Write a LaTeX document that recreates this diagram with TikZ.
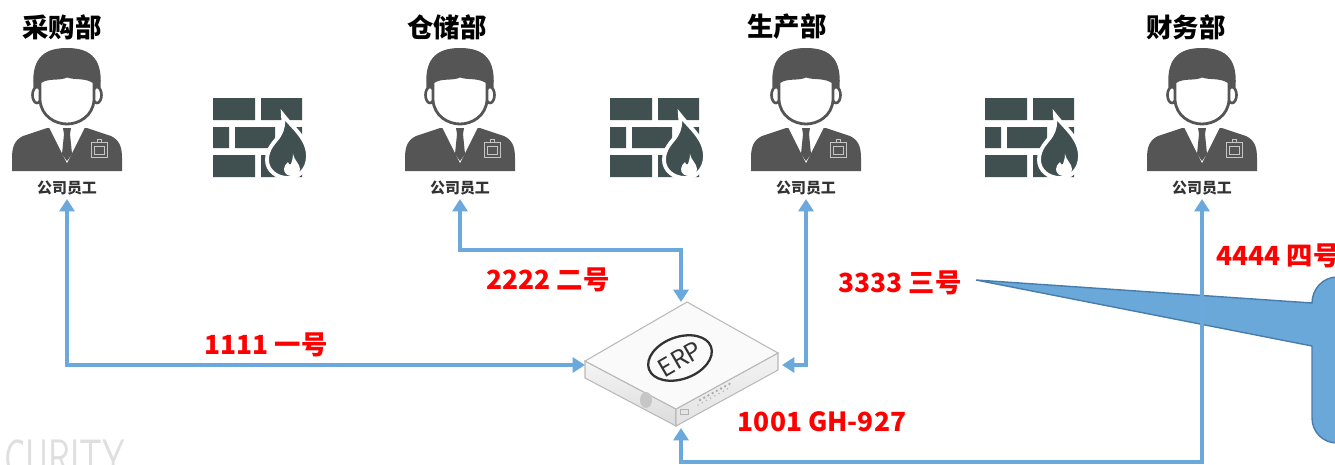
\documentclass[tikz,border=0pt]{standalone}
\usepackage{fontspec}
\newfontfamily\cjk{Noto Sans CJK SC}
\usetikzlibrary{arrows.meta}
\definecolor{staffgray}{RGB}{85,85,85}
\definecolor{wallgray}{RGB}{64,80,80}
\definecolor{linkblue}{RGB}{107,169,220}
\definecolor{tipblue}{RGB}{106,168,218}
\definecolor{tipedge}{RGB}{72,124,172}

\tikzset{
  staff/.pic={
    \fill[staffgray] (-55,171) -- (-55,158) .. controls (-55,146) and (-52,140) .. (-44,136) -- (-20,128) -- (20,128) -- (44,136) .. controls (52,140) and (55,146) .. (55,158) -- (55,171) -- cycle;
    \fill[white] (-18,127) -- (18,127) -- (0,163) -- cycle;
    \fill[staffgray] (-4,128) -- (4,128) -- (3,134) -- (5,154) -- (0,161) -- (-5,154) -- (-3,134) -- cycle;
    \draw[gray!45, line width=0.5pt] (24,142) rectangle (40,157) (27,146) rectangle (37,154) (30,142) -- (30,139) -- (34,139) -- (34,142);
    \fill[staffgray] (-33,92) .. controls (-37,60) and (-25,48) .. (0,48) .. controls (25,48) and (37,60) .. (33,92) -- cycle;
    \filldraw[fill=white, draw=staffgray, line width=1.5pt] (-30,95) ellipse [x radius=4.5, y radius=8] (30,95) ellipse [x radius=4.5, y radius=8];
    \filldraw[fill=white, draw=staffgray, line width=1.6pt] (-27,82) .. controls (-18,76) and (-8,80) .. (0,76) .. controls (8,79) and (18,76) .. (27,82) -- (27,100) .. controls (26,116) and (12,124) .. (0,124) .. controls (-12,124) and (-26,116) .. (-27,100) -- cycle;
  },
  wall/.pic={
    \fill[wallgray] (0,0) rectangle (42,22) (48,0) rectangle (89,22) (0,29) rectangle (16,50) (22,29) rectangle (62,50) (69,29) rectangle (89,50) (0,57) rectangle (42,79) (48,57) rectangle (89,79);
    \filldraw[fill=wallgray, draw=white, line width=2.2pt] (70,17) .. controls (78,28) and (95,40) .. (95,58) .. controls (95,72) and (85,80) .. (75,80) .. controls (63,80) and (54,72) .. (54,62) .. controls (54,50) and (62,44) .. (66,38) .. controls (70,32) and (71,24) .. (70,17) -- cycle;
    \fill[white] (80,56) .. controls (81,62) and (87,66) .. (87,71) .. controls (87,76) and (83,78) .. (79,78) .. controls (74,78) and (71,75) .. (71,71) .. controls (71,68) and (73,66) .. (75,64) .. controls (76,67) and (77,67) .. (78,66) .. controls (79,63) and (80,60) .. (80,56) -- cycle;
  }
}

\begin{document}
\begin{tikzpicture}[x=0.02cm, y=-0.02cm,
    dept/.style={font=\cjk\bfseries\fontsize{15}{18}\selectfont},
    role/.style={font=\cjk\bfseries\fontsize{8.5}{10}\selectfont, text=black!80},
    tag/.style={font=\cjk\bfseries\fontsize{15}{18}\selectfont, text=red},
    link/.style={linkblue, line width=2pt, {Triangle[width=8.5pt,length=7pt]}-{Triangle[width=8.5pt,length=7pt]}}]
  \useasboundingbox (0,0) rectangle (1335,464);
  \clip (0,0) rectangle (1335,464);

  \node[inner sep=0, anchor=north west, xscale=0.68, text=gray!25, font=\sffamily\fontsize{30}{30}\selectfont] (mark) at (4,440) {CURITY};

  \foreach \cx/\nm in {67/1, 460/2, 806/3, 1202/4} {
    \pic at (\cx,0) {staff};
    \node[role] (r\nm) at (\cx,188) {公司员工};
    \coordinate (p\nm) at (\cx,199);
  }
  \node[dept] (h1) at (62,27) {采购部};
  \node[dept] (h2) at (447,27) {仓储部};
  \node[dept] (h3) at (787,27) {生产部};
  \node[dept] (h4) at (1186,27) {财务部};

  \foreach \wx in {213, 610, 985}
    \pic at (\wx,98) {wall};

  % ERP box
  \shade[top color=gray!8, bottom color=gray!28, draw=gray!55, line width=0.6pt] (585,361) -- (676,409) -- (676,426) -- (585,378) -- cycle;
  \shade[top color=gray!10, bottom color=gray!22, draw=gray!55, line width=0.6pt] (676,409) -- (778,353) -- (778,370) -- (676,426) -- cycle;
  \filldraw[fill=gray!4, draw=gray!55, line width=0.6pt] (585,361) -- (687,302) -- (778,353) -- (676,409) -- cycle;
  \fill[gray!45] (646,400) ellipse [x radius=6, y radius=8];
  \foreach \i in {0,...,7} {
    \fill[gray!65] ({700+4.2*\i},{400-2.3*\i}) circle (1.3);
    \fill[gray!55] ({698+4.2*\i},{405-2.3*\i}) circle (0.9);
  }
  \draw[gray!60, line width=0.4pt] (680,409) rectangle (688,414);
  \draw[black!80, line width=1.3pt, rotate around={20:(680,358)}] (680,358) ellipse [x radius=33, y radius=21];
  \node[inner sep=0, rotate=30, font=\cjk\fontsize{14}{14}\selectfont, text=black!80] (erp) at (680,359) {ERP};
  \coordinate (erpW) at (585,365);
  \coordinate (erpE) at (782,365);
  \coordinate (erpN) at (681,302);
  \coordinate (erpS) at (681,428);

  \filldraw[fill=tipblue, draw=tipedge, line width=0.8pt] (976,280) -- (1312,303) .. controls (1312,289) and (1323,277) .. (1337,277) -- (1400,277) -- (1400,443) -- (1337,443) .. controls (1323,443) and (1312,432) .. (1312,418) -- (1312,346) -- cycle;

  \draw[link] (p1) |- (erpW);
  \draw[link] (p2) -- ++(0,51) -| (erpN);
  \draw[link] (p3) |- (erpE);
  \draw[link] (p4) -- ++(0,263) -| (erpS);

  \node[tag] (t1) at (266,345) {1111 一号};
  \node[tag] (t2) at (548,280) {2222 二号};
  \node[tag] (t3) at (900,283) {3333 三号};
  \node[tag] (t0) at (822,422) {1001 GH-927};
  \node[tag] (t4) at (1278,256) {4444 四号};
\end{tikzpicture}
\end{document}
